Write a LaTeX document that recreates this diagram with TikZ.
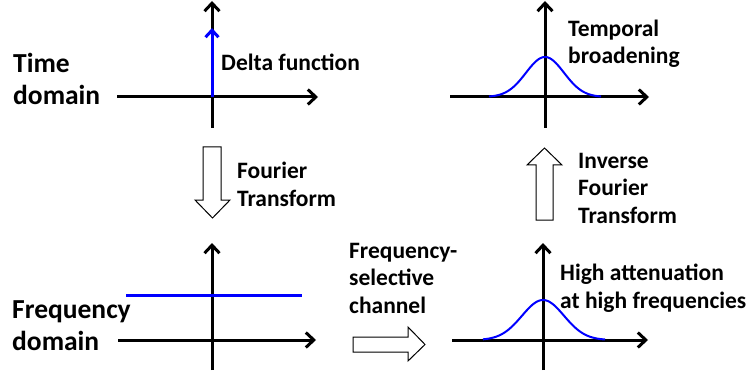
\documentclass[tikz,border=0pt]{standalone}
\usepackage{fontspec}
\setmainfont{Carlito}
\usetikzlibrary{arrows.meta}
\begin{document}
\begin{tikzpicture}[x=1pt,y=-1pt,
  axis/.style={line width=3pt,-{Straight Barb[length=8pt,width=15pt,line width=3pt]}},
  sig/.style={line width=3pt,draw={rgb,255:red,0;green,0;blue,255}},
  gauss/.style={line width=2pt,draw={rgb,255:red,0;green,0;blue,255}},
  blockarrow/.style={draw=black,line width=1pt,fill=white,line join=miter},
  lab/.style={font=\fontsize{23.5}{27.5}\selectfont\bfseries,align=left,anchor=base west,inner sep=0pt},
  biglab/.style={font=\fontsize{27.5}{32}\selectfont\bfseries,align=left,anchor=base west,inner sep=0pt}]
\useasboundingbox (0,0) rectangle (755,377);

% ---------- top left: delta function ----------
\coordinate (tlO) at (212,97);
\coordinate (tlB) at (212,128);
\coordinate (tlT) at (212,1);
\coordinate (tlL) at (117,97);
\coordinate (tlR) at (318,97);
\coordinate (tlD) at (212,28);
\draw[axis] (tlB) -- (tlT);
\draw[axis] (tlL) -- (tlR);
\draw[sig,-{Straight Barb[length=7pt,width=13pt,line width=3pt]}] (tlO) -- (tlD);

% ---------- top right: temporal broadening ----------
\coordinate (trB) at (545,128);
\coordinate (trT) at (545,1);
\coordinate (trL) at (450,97);
\coordinate (trR) at (649,97);
\draw[axis] (trB) -- (trT);
\draw[axis] (trL) -- (trR);
\draw[gauss,domain=-56:56,samples=80,smooth] plot ({545+\x},{97-40*exp(-(\x*\x)/(2*19*19))});

% ---------- bottom left: flat spectrum ----------
\coordinate (blB) at (212,370);
\coordinate (blT) at (212,243);
\coordinate (blL) at (118,340);
\coordinate (blR) at (316,340);
\coordinate (flatL) at (126,295);
\coordinate (flatR) at (302,295);
\draw[axis] (blB) -- (blT);
\draw[axis] (blL) -- (blR);
\draw[sig] (flatL) -- (flatR);

% ---------- bottom right: filtered spectrum ----------
\coordinate (brB) at (543,370);
\coordinate (brT) at (543,243);
\coordinate (brL) at (452,340);
\coordinate (brR) at (648,340);
\draw[axis] (brB) -- (brT);
\draw[axis] (brL) -- (brR);
\draw[gauss,domain=-60:62,samples=80,smooth] plot ({543+\x},{340-40*exp(-(\x*\x)/(2*21*21))});

% ---------- block arrows ----------
\draw[blockarrow] (203,147) -- (221,147) -- (221,200) -- (230,200) -- (212.5,218) -- (195,200) -- (203,200) -- cycle;
\draw[blockarrow] (536,220) -- (553,220) -- (553,165) -- (562,165) -- (544.5,148) -- (527,165) -- (536,165) -- cycle;
\draw[blockarrow] (353,337) -- (408,337) -- (408,327) -- (425,344.5) -- (408,361) -- (408,352) -- (353,352) -- cycle;

% ---------- labels (base anchor = last line's baseline) ----------
\node[biglab] (timedom) at (13,105) {Time\\domain};
\node[biglab] (freqdom) at (12,350) {Frequency\\domain};
\node[lab] (delta) at (221,70.5) {Delta function};
\node[lab] (broad) at (568,64) {Temporal\\broadening};
\node[lab] (ft) at (237,206) {Fourier\\Transform};
\node[lab] (ift) at (578,223) {Inverse\\Fourier\\Transform};
\node[lab] (chan) at (349,313) {Frequency-\\selective\\channel};
\node[lab] (atten) at (560,308) {High attenuation\\at high frequencies};
\end{tikzpicture}
\end{document}
